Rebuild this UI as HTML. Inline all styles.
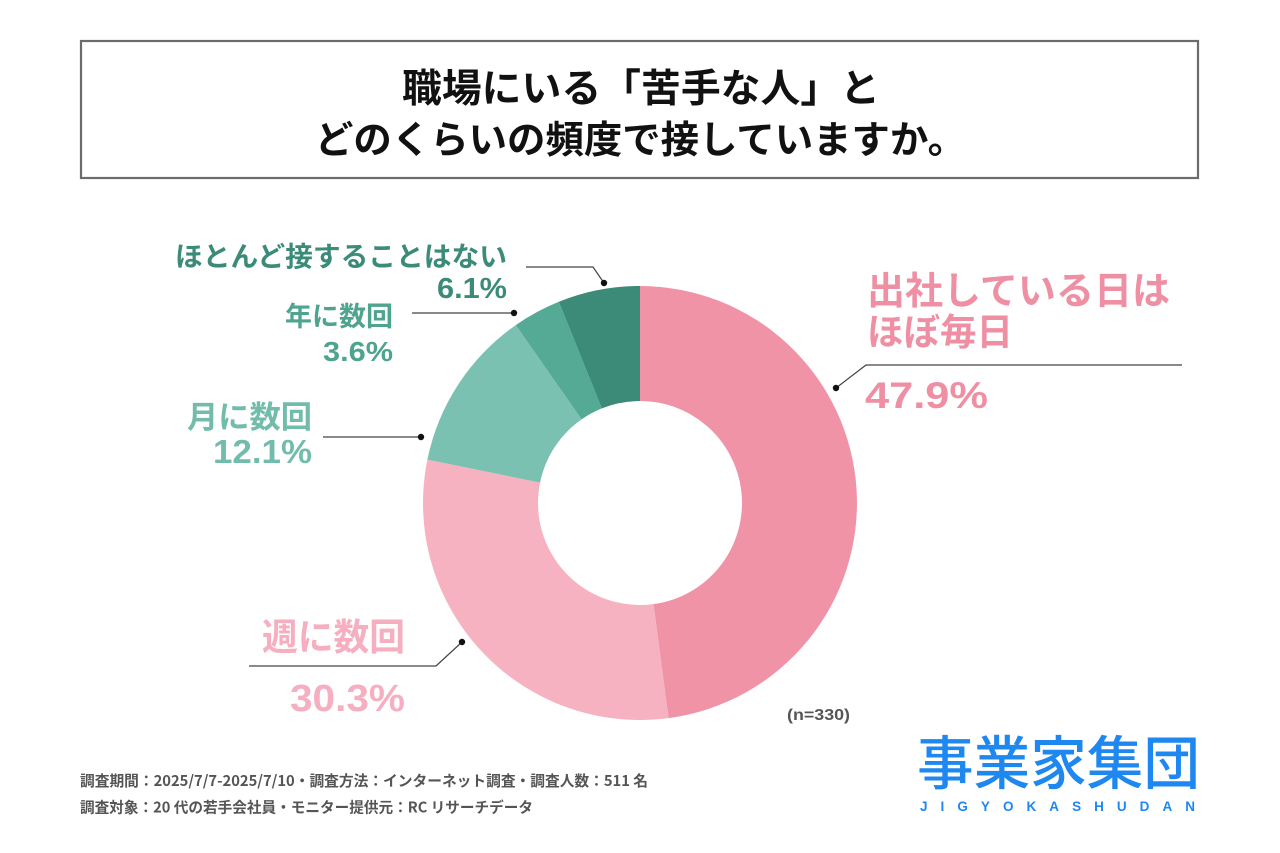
<!DOCTYPE html>
<html>
<head>
<meta charset="utf-8">
<style>
html,body{margin:0;padding:0;background:#fff;}
svg{display:block;}
text{font-family:"Liberation Sans","Noto Sans CJK JP",sans-serif;}
.jp{font-family:"Noto Sans CJK JP","Liberation Sans",sans-serif;}
</style>
</head>
<body>
<svg width="1280" height="853" viewBox="0 0 1280 853" xmlns="http://www.w3.org/2000/svg">
<rect x="0" y="0" width="1280" height="853" fill="#fff"/>
<!-- title box -->
<rect x="81" y="41" width="1117" height="137" fill="#fff" stroke="#6b6d6d" stroke-width="2.2"/>
<text class="jp" x="402" y="102" font-size="39" font-weight="700" fill="#111" textLength="478" lengthAdjust="spacingAndGlyphs">職場にいる「苦手な人」と</text>
<text class="jp" x="315" y="153" font-size="38" font-weight="700" fill="#111" textLength="651" lengthAdjust="spacingAndGlyphs">どのくらいの頻度で接していますか。</text>

<!-- donut -->
<path d="M640,286 A217,217 0 0 1 668.55,718.11 L653.42,604.11 A102,102 0 0 0 640,401 Z" fill="#F093A7"/>
<path d="M668.55,718.11 A217,217 0 0 1 427.37,459.66 L540.06,482.63 A102,102 0 0 0 653.42,604.11 Z" fill="#F7B2C2"/>
<path d="M427.37,459.66 A217,217 0 0 1 515.78,325.07 L581.61,419.36 A102,102 0 0 0 540.06,482.63 Z" fill="#7BC1B1"/>
<path d="M515.78,325.07 A217,217 0 0 1 558.84,301.75 L601.85,408.4 A102,102 0 0 0 581.61,419.36 Z" fill="#55AA95"/>
<path d="M558.84,301.75 A217,217 0 0 1 640,286 L640,401 A102,102 0 0 0 601.85,408.4 Z" fill="#3B8B78"/>

<!-- leader lines -->
<g stroke="#444" stroke-width="1.2" fill="none">
<polyline points="836,388 866,365 1182,365"/>
<polyline points="462,642 436,666 249,666"/>
<polyline points="421,437 323,437"/>
<polyline points="514,313 412,313"/>
<polyline points="604,283 593,267 526,267"/>
</g>
<g fill="#111">
<circle cx="836" cy="388" r="3.2"/>
<circle cx="462" cy="642" r="3.2"/>
<circle cx="421" cy="437" r="3.2"/>
<circle cx="514" cy="313" r="3.2"/>
<circle cx="604" cy="283" r="3.2"/>
</g>

<!-- labels -->
<text class="jp" x="175" y="266" font-size="27.5" font-weight="700" fill="#3B8B78" textLength="332" lengthAdjust="spacingAndGlyphs">ほとんど接することはない</text>
<text x="437" y="298" font-size="29" font-weight="700" fill="#3B8B78" textLength="70" lengthAdjust="spacingAndGlyphs">6.1%</text>

<text class="jp" x="285" y="326" font-size="27" font-weight="700" fill="#4EA48E" textLength="108" lengthAdjust="spacingAndGlyphs">年に数回</text>
<text x="323" y="361" font-size="28" font-weight="700" fill="#4EA48E" textLength="70" lengthAdjust="spacingAndGlyphs">3.6%</text>

<text class="jp" x="187" y="428" font-size="31" font-weight="700" fill="#72BCAB" textLength="125" lengthAdjust="spacingAndGlyphs">月に数回</text>
<text x="213" y="463" font-size="33" font-weight="700" fill="#72BCAB" textLength="99" lengthAdjust="spacingAndGlyphs">12.1%</text>

<text class="jp" x="867" y="304" font-size="38" font-weight="700" fill="#EE8FA3" textLength="303" lengthAdjust="spacingAndGlyphs">出社している日は</text>
<text class="jp" x="867" y="345" font-size="37" font-weight="700" fill="#EE8FA3" textLength="146" lengthAdjust="spacingAndGlyphs">ほぼ毎日</text>
<text x="865" y="408" font-size="37" font-weight="700" fill="#EE8FA3" textLength="123" lengthAdjust="spacingAndGlyphs">47.9%</text>

<text class="jp" x="262" y="650" font-size="37" font-weight="700" fill="#F5AFC0" textLength="143" lengthAdjust="spacingAndGlyphs">週に数回</text>
<text x="290" y="711" font-size="38" font-weight="700" fill="#F5AFC0" textLength="115" lengthAdjust="spacingAndGlyphs">30.3%</text>

<text x="787" y="720" font-size="16" font-weight="700" fill="#555" textLength="63" lengthAdjust="spacingAndGlyphs">(n=330)</text>

<!-- footer -->
<text class="jp" x="80" y="786" font-size="14.7" font-weight="700" fill="#555" textLength="568" lengthAdjust="spacingAndGlyphs">調査期間：2025/7/7-2025/7/10・調査方法：インターネット調査・調査人数：511 名</text>
<text class="jp" x="80" y="812.5" font-size="14.7" font-weight="700" fill="#555" textLength="453" lengthAdjust="spacingAndGlyphs">調査対象：20 代の若手会社員・モニター提供元：RC リサーチデータ</text>

<!-- logo -->
<text class="jp" x="917" y="784" font-size="58" font-weight="500" fill="#1E88F0" textLength="283" lengthAdjust="spacingAndGlyphs">事業家集団</text>
<text x="920" y="811" font-size="13.5" font-weight="700" fill="#1E88F0" textLength="275" lengthAdjust="spacing">JIGYOKASHUDAN</text>
</svg>
</body>
</html>
